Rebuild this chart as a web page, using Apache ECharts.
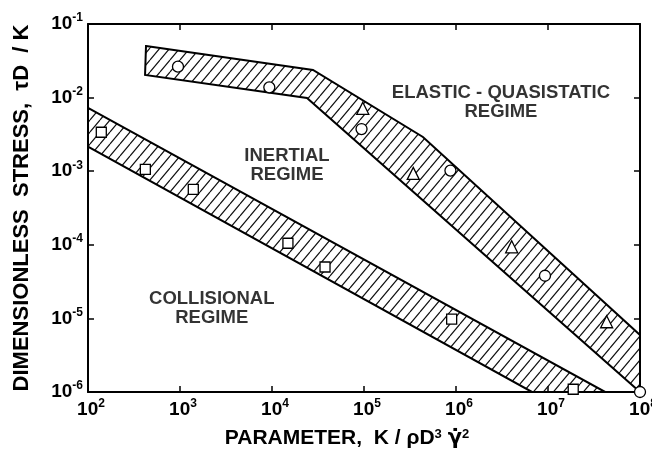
<!DOCTYPE html>
<html><head><meta charset="utf-8">
<script src="https://cdn.jsdelivr.net/npm/echarts@6/dist/echarts.min.js"></script>
<style>html,body{margin:0;padding:0;background:#fff}#c{width:652px;height:466px}</style>
</head><body><div id="c"></div>
<script>
// ---- data ----
const xRange = [1e2, 1e8];
const yRange = [1e-6, 1e-1];
// upper (elastic/inertial boundary) band outline
const upperBandX = [427, 27900, 4.37e5, 1e8, 1e8, 24000, 417];
const upperBandY = [0.0502, 0.0237, 2.92e-3, 5.94e-6, 1e-6, 9.9e-3, 0.0203];
// lower (inertial/collisional boundary) band outline
const lowerBandX = [100, 4.2e7, 6.7e6, 100];
const lowerBandY = [7.23e-3, 1e-6, 1e-6, 2.15e-3];
// markers
const circlesX = [951, 9350, 9.4e4, 8.7e5, 9.27e6, 1e8];
const circlesY = [0.0263, 0.0138, 3.74e-3, 1.02e-3, 3.8e-5, 1e-6];
const trianglesX = [9.7e4, 3.43e5, 4.03e6, 4.34e7];
const trianglesY = [7.16e-3, 9.35e-4, 9.4e-5, 9.0e-6];
const squaresX = [139.5, 420, 1395, 14900, 37700, 8.97e5, 1.88e7];
const squaresY = [3.38e-3, 1.06e-3, 5.68e-4, 1.05e-4, 4.99e-5, 9.8e-6, 1.09e-6];
// region annotations
const regionLabels = ['ELASTIC - QUASISTATIC\nREGIME', 'INERTIAL\nREGIME', 'COLLISIONAL\nREGIME'];
const regionX = [3.08e6, 14550, 2213];
const regionY = [8.58e-3, 1.21e-3, 1.38e-5];
const xTitle = 'PARAMETER,  K / \u03C1D{s|3} {g|\u03B3\u0307}{s|2}';
const yTitle = 'DIMENSIONLESS  STRESS,  \u03C4D  / K';

const FONT = '"Liberation Sans", Arial, Helvetica, sans-serif';
const INK = '#000';

function hatchCanvas() {
  const w = 10, h = 12;
  const c = document.createElement('canvas');
  c.width = w; c.height = h;
  const g = c.getContext('2d');
  g.strokeStyle = '#111';
  g.lineWidth = 1.2;
  g.beginPath();
  for (const dx of [-w, 0, w]) { g.moveTo(dx, h); g.lineTo(dx + w, 0); }
  g.stroke();
  return c;
}
const pattern = { image: hatchCanvas(), repeat: 'repeat' };

function bandSeries(xs, ys) {
  return {
    type: 'custom', coordinateSystem: 'cartesian2d', xAxisIndex: 0, yAxisIndex: 0,
    clip: false, silent: true, z: 3,
    data: [[xs[0], ys[0]]],
    encode: { x: 0, y: 1 },
    renderItem: (params, api) => ({
      type: 'polygon',
      shape: { points: xs.map((x, i) => api.coord([x, ys[i]])) },
      style: { fill: pattern, stroke: '#000', lineWidth: 2, lineJoin: 'miter' }
    })
  };
}

function markerSeries(xs, ys, symbol, size) {
  return {
    type: 'scatter', xAxisIndex: 0, yAxisIndex: 0, symbol: symbol, symbolSize: size,
    clip: false, silent: true, z: 5,
    itemStyle: { color: '#fff', borderColor: '#000', borderWidth: 1.3, opacity: 1 },
    data: xs.map((x, i) => [x, ys[i]])
  };
}

const expFmt = v => '{b|10}{s|' + Math.round(Math.log10(v)) + '}';
const tickRich = {
  b: { fontSize: 19, fontWeight: 'bold', fontFamily: FONT, color: INK, lineHeight: 24 },
  s: { fontSize: 12, fontWeight: 'bold', fontFamily: FONT, color: INK, verticalAlign: 'top', lineHeight: 13 }
};
const lineStyle = { color: '#000', width: 2 };
const tickStyle = { inside: true, length: 6, lineStyle: { color: '#000', width: 1.5 } };

const chart = echarts.init(document.getElementById('c'), null, { renderer: 'canvas' });
chart.setOption({
  animation: false,
  backgroundColor: '#fff',
  grid: { left: 88, right: 12, top: 24, bottom: 74, containLabel: false, outerBoundsMode: 'none' },
  xAxis: [
    {
      type: 'log', logBase: 10, min: xRange[0], max: xRange[1], position: 'bottom',
      axisLine: { show: true, onZero: false, lineStyle },
      axisTick: tickStyle, splitLine: { show: false }, minorTick: { show: false },
      axisLabel: { formatter: expFmt, rich: tickRich, margin: 6, padding: [0, 0, 0, 6], hideOverlap: false },
      name: xTitle, nameLocation: 'middle', nameGap: 36,
      nameTextStyle: {
        fontSize: 21, fontWeight: 'bold', fontFamily: FONT, color: INK, padding: [0, 34, 0, 0],
        rich: {
          s: { fontSize: 13, fontWeight: 'bold', fontFamily: FONT, color: INK, verticalAlign: 'top', lineHeight: 14 },
          g: { fontSize: 21, fontWeight: 'bold', fontFamily: '"DejaVu Sans", sans-serif', color: INK }
        }
      }
    },
    {
      type: 'log', logBase: 10, min: xRange[0], max: xRange[1], position: 'top',
      axisLine: { show: true, onZero: false, lineStyle },
      axisTick: tickStyle, axisLabel: { show: false }, splitLine: { show: false }
    }
  ],
  yAxis: [
    {
      type: 'log', logBase: 10, min: yRange[0], max: yRange[1], position: 'left',
      axisLine: { show: true, onZero: false, lineStyle },
      axisTick: tickStyle, splitLine: { show: false }, minorTick: { show: false },
      axisLabel: { formatter: expFmt, rich: tickRich, margin: 5 },
      name: yTitle, nameLocation: 'middle', nameGap: 55, nameRotate: 90,
      nameTextStyle: { fontSize: 22, fontWeight: 'bold', fontFamily: FONT, color: INK }
    },
    {
      type: 'log', logBase: 10, min: yRange[0], max: yRange[1], position: 'right',
      axisLine: { show: true, onZero: false, lineStyle },
      axisTick: tickStyle, axisLabel: { show: false }, splitLine: { show: false }
    }
  ],
  series: [
    bandSeries(lowerBandX, lowerBandY),
    bandSeries(upperBandX, upperBandY),
    markerSeries(circlesX, circlesY, 'circle', 11),
    markerSeries(trianglesX, trianglesY, 'triangle', 12),
    markerSeries(squaresX, squaresY, 'rect', 10),
    {
      type: 'scatter', xAxisIndex: 0, yAxisIndex: 0, symbolSize: 0, silent: true, z: 6,
      data: regionX.map((x, i) => [x, regionY[i]]),
      label: {
        show: true, position: 'inside', formatter: p => regionLabels[p.dataIndex],
        fontSize: 18.5, fontWeight: 'bold', lineHeight: 19, fontFamily: FONT, color: INK, align: 'center'
      }
    }
  ]
});
</script></body></html>
